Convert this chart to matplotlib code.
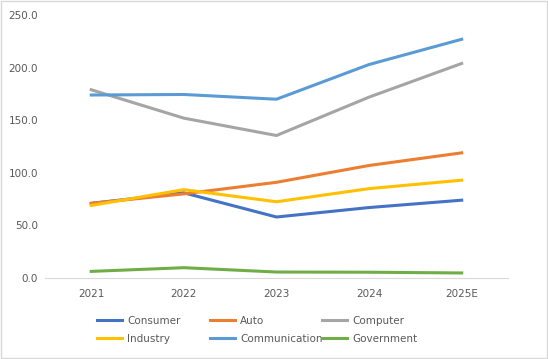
import matplotlib.pyplot as plt

# Data
years = ["2021", "2022", "2023", "2024", "2025E"]
consumer = [71, 81, 58, 67, 74]
auto = [71, 80, 91, 107, 119]
computer = [179, 152, 135.5, 172, 204]
industry = [69, 84, 72.5, 85, 93]
communication = [174, 174.5, 170, 203, 227]
government = [6.3, 9.8, 5.7, 5.5, 4.8]

series = [
    ("Consumer", consumer, "#4472C4"),
    ("Auto", auto, "#ED7D31"),
    ("Computer", computer, "#A5A5A5"),
    ("Industry", industry, "#FFC000"),
    ("Communication", communication, "#5B9BD5"),
    ("Government", government, "#70AD47"),
]

fig = plt.figure(figsize=(5.48, 3.59), dpi=100)
ax = fig.add_axes([0.082, 0.2256, 0.845, 0.7324])

x = range(len(years))
lines = []
for name, vals, color in series:
    ln, = ax.plot(x, vals, color=color, linewidth=2.2, label=name)
    lines.append(ln)

ax.set_ylim(0, 250)
ax.set_xlim(-0.5, 4.5)
ax.set_yticks([0, 50, 100, 150, 200, 250])
ax.set_yticklabels([f"{v:.1f}" for v in [0, 50, 100, 150, 200, 250]])
ax.set_xticks(list(x))
ax.set_xticklabels(years)
ax.tick_params(length=0, labelsize=7.5, colors="#595959", pad=8)
ax.tick_params(axis="y", pad=5)

for side in ["top", "right", "left"]:
    ax.spines[side].set_visible(False)
ax.spines["bottom"].set_color("#D9D9D9")

# legend: three columns at fixed positions, like Excel
col_x = [97, 210, 322]
for c in range(3):
    pair = [lines[c], lines[c + 3]]
    leg = fig.legend(pair, [l.get_label() for l in pair], loc="upper left",
                     bbox_to_anchor=(col_x[c] / 548, 1 - 316 / 359), frameon=False,
                     fontsize=7.5, handlelength=2.4, handletextpad=0.5,
                     labelspacing=0.75, borderpad=0, borderaxespad=0)
    for t in leg.get_texts():
        t.set_color("#595959")

# light chart border
fig.patches.append(plt.Rectangle((0.002, 0.003), 0.996, 0.994, transform=fig.transFigure,
                                 fill=False, edgecolor="#D9D9D9", linewidth=1))

fig.savefig("out.png", dpi=100)
